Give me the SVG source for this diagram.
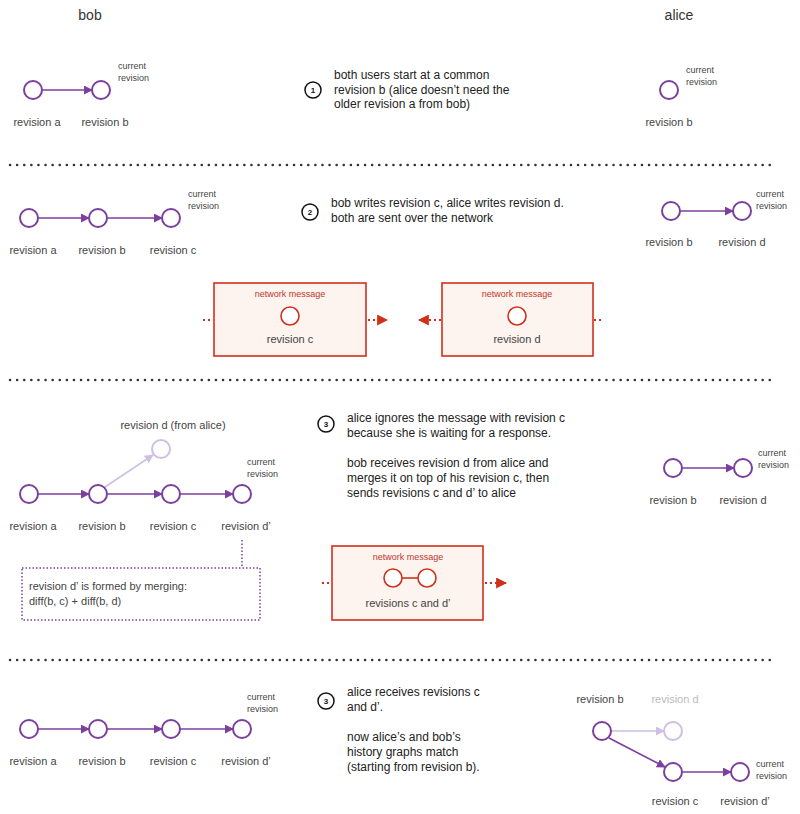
<svg xmlns="http://www.w3.org/2000/svg" width="800" height="814" viewBox="0 0 800 814">
<defs>
<marker id="ap" viewBox="0 0 10 10" refX="9" refY="5" markerWidth="9" markerHeight="9" markerUnits="userSpaceOnUse" orient="auto"><path d="M0,0L10,5L0,10z" fill="#7b3f9e"/></marker>
<marker id="af" viewBox="0 0 10 10" refX="9" refY="5" markerWidth="9" markerHeight="9" markerUnits="userSpaceOnUse" orient="auto"><path d="M0,0L10,5L0,10z" fill="#cfbfe0"/></marker>
<marker id="ar" viewBox="0 0 10 10" refX="9" refY="5" markerWidth="11" markerHeight="11" markerUnits="userSpaceOnUse" orient="auto"><path d="M0,0L10,5L0,10z" fill="#d0301a"/></marker>
</defs>
<style>
text{font-family:"Liberation Sans",Arial,sans-serif;fill:#444;font-size:11px}
.t{font-size:12px;fill:#222}
.s{font-size:9px;fill:#444}
.h{font-size:14px;fill:#333}
.m{font-size:9px;fill:#c0392b}
.n{fill:#fff;stroke:#7b3f9e;stroke-width:2}
.f{fill:#fff;stroke:#cfbfe0;stroke-width:2}
.e{stroke:#7b3f9e;stroke-width:1.6;fill:none}
.ef{stroke:#cfbfe0;stroke-width:1.6;fill:none}
.sep{stroke:#333;stroke-width:2.5;stroke-dasharray:0.1 7;stroke-linecap:round}
.box{fill:#fdf3ef;stroke:#d0301a;stroke-width:1.6}
.rn{fill:#fff;stroke:#d0301a;stroke-width:1.6}
.rd{stroke:#d0301a;stroke-width:2;stroke-dasharray:2 3;fill:none}
.step{fill:#fff;stroke:#111;stroke-width:1.5}
.sn{font-size:8px;fill:#111;font-weight:bold}
</style>
<text class="h" x="90" y="20" text-anchor="middle">bob</text>
<text class="h" x="679" y="20" text-anchor="middle">alice</text>
<g id="separators">
<line class="sep" x1="10" y1="165" x2="775" y2="165"/>
<line class="sep" x1="10" y1="380" x2="775" y2="380"/>
<line class="sep" x1="10" y1="660" x2="775" y2="660"/>
</g>
<g id="connectors">
<line class="e" x1="42" y1="90" x2="92" y2="90" marker-end="url(#ap)"/>
<line class="e" x1="38" y1="218" x2="89" y2="218" marker-end="url(#ap)"/>
<line class="e" x1="107" y1="218" x2="162" y2="218" marker-end="url(#ap)"/>
<line class="e" x1="680" y1="211" x2="733" y2="211" marker-end="url(#ap)"/>
<path class="rd" d="M203,320H213"/><path class="rd" d="M368,320H387" marker-end="url(#ar)"/>
<path class="rd" d="M441,320H419" marker-end="url(#ar)"/><path class="rd" d="M594,320H604"/>
<line class="e" x1="38" y1="494" x2="89" y2="494" marker-end="url(#ap)"/>
<line class="e" x1="107" y1="494" x2="162" y2="494" marker-end="url(#ap)"/>
<line class="e" x1="180" y1="494" x2="233" y2="494" marker-end="url(#ap)"/>
<line class="ef" x1="105" y1="487" x2="153" y2="455" marker-end="url(#af)"/>
<line stroke="#7b3f9e" stroke-width="1.5" stroke-dasharray="1.5 2" x1="242" y1="540" x2="242" y2="568"/>
<line class="e" x1="682" y1="468" x2="734" y2="468" marker-end="url(#ap)"/>
<path class="rd" d="M322,583H331"/><path class="rd" d="M485,583H506" marker-end="url(#ar)"/>
<line class="e" x1="38" y1="729" x2="89" y2="729" marker-end="url(#ap)"/>
<line class="e" x1="107" y1="729" x2="162" y2="729" marker-end="url(#ap)"/>
<line class="e" x1="180" y1="729" x2="233" y2="729" marker-end="url(#ap)"/>
<line class="ef" x1="611" y1="731" x2="664" y2="731" marker-end="url(#af)"/>
<line class="e" x1="609" y1="738" x2="665" y2="767" marker-end="url(#ap)"/>
<line class="e" x1="682" y1="772" x2="731" y2="772" marker-end="url(#ap)"/>
</g>
<g id="section1">
<circle class="n" cx="33" cy="90" r="9"/><text x="37" y="126" text-anchor="middle">revision a</text>
<circle class="n" cx="101" cy="90" r="9"/><text x="105" y="126" text-anchor="middle">revision b</text>
<text class="s" x="118" y="69">current</text><text class="s" x="118" y="81">revision</text>
<circle class="n" cx="669" cy="90" r="9"/><text x="669" y="126" text-anchor="middle">revision b</text>
<text class="s" x="686" y="73">current</text><text class="s" x="686" y="85">revision</text>
<circle class="step" cx="313" cy="90" r="8"/><text class="sn" x="313" y="93" text-anchor="middle">1</text>
<text class="t" x="334" y="79">both users start at a common</text>
<text class="t" x="334" y="94">revision b (alice doesn’t need the</text>
<text class="t" x="334" y="108">older revision a from bob)</text>
</g>
<g id="section2">
<circle class="n" cx="29" cy="218" r="9"/><text x="33" y="254" text-anchor="middle">revision a</text>
<circle class="n" cx="98" cy="218" r="9"/><text x="102" y="254" text-anchor="middle">revision b</text>
<circle class="n" cx="171" cy="218" r="9"/><text x="173" y="254" text-anchor="middle">revision c</text>
<text class="s" x="188" y="197">current</text><text class="s" x="188" y="209">revision</text>
<circle class="step" cx="310" cy="212" r="8"/><text class="sn" x="310" y="215" text-anchor="middle">2</text>
<text class="t" x="331" y="207">bob writes revision c, alice writes revision d.</text>
<text class="t" x="331" y="222">both are sent over the network</text>
<circle class="n" cx="671" cy="211" r="9"/><text x="669" y="246" text-anchor="middle">revision b</text>
<circle class="n" cx="742" cy="211" r="9"/><text x="742" y="246" text-anchor="middle">revision d</text>
<text class="s" x="756" y="197">current</text><text class="s" x="756" y="209">revision</text>
</g>
<g id="msg-c"><rect class="box" x="214" y="283" width="152" height="73"/><text class="m" x="290" y="297" text-anchor="middle">network message</text><circle class="rn" cx="290" cy="316" r="9"/><text x="290" y="343" text-anchor="middle">revision c</text></g>
<g id="msg-d"><rect class="box" x="442" y="283" width="151" height="73"/><text class="m" x="517" y="297" text-anchor="middle">network message</text><circle class="rn" cx="517" cy="316" r="9"/><text x="517" y="343" text-anchor="middle">revision d</text></g>
<g id="section3">
<text x="173" y="429" text-anchor="middle">revision d (from alice)</text>
<circle class="f" cx="161" cy="449" r="9"/>
<circle class="n" cx="29" cy="494" r="9"/><text x="33" y="530" text-anchor="middle">revision a</text>
<circle class="n" cx="98" cy="494" r="9"/><text x="102" y="530" text-anchor="middle">revision b</text>
<circle class="n" cx="171" cy="494" r="9"/><text x="173" y="530" text-anchor="middle">revision c</text>
<circle class="n" cx="242" cy="494" r="9"/><text x="246" y="530" text-anchor="middle">revision d’</text>
<text class="s" x="247" y="465">current</text><text class="s" x="247" y="477">revision</text>
<rect x="22" y="568" width="238" height="52" fill="#fff" stroke="#7b3f9e" stroke-width="1.5" stroke-dasharray="1.5 2"/>
<text x="29" y="590">revision d’ is formed by merging:</text><text x="29" y="605">diff(b, c) + diff(b, d)</text>
<circle class="step" cx="326" cy="424" r="8"/><text class="sn" x="326" y="427" text-anchor="middle">3</text>
<text class="t" x="347" y="422">alice ignores the message with revision c</text>
<text class="t" x="347" y="437">because she is waiting for a response.</text>
<text class="t" x="347" y="467">bob receives revision d from alice and</text>
<text class="t" x="347" y="482">merges it on top of his revision c, then</text>
<text class="t" x="347" y="497">sends revisions c and d’ to alice</text>
<circle class="n" cx="673" cy="468" r="9"/><text x="673" y="504" text-anchor="middle">revision b</text>
<circle class="n" cx="743" cy="468" r="9"/><text x="743" y="504" text-anchor="middle">revision d</text>
<text class="s" x="758" y="456">current</text><text class="s" x="758" y="468">revision</text>
</g>
<g id="msg-cd"><rect class="box" x="332" y="546" width="151" height="74"/><text class="m" x="408" y="560" text-anchor="middle">network message</text><line stroke="#d0301a" stroke-width="1.6" x1="402" y1="578" x2="418" y2="578"/><circle class="rn" cx="393" cy="578" r="9"/><circle class="rn" cx="427" cy="578" r="9"/><text x="408" y="607" text-anchor="middle">revisions c and d’</text></g>
<g id="section4">
<circle class="n" cx="29" cy="729" r="9"/><text x="33" y="765" text-anchor="middle">revision a</text>
<circle class="n" cx="98" cy="729" r="9"/><text x="102" y="765" text-anchor="middle">revision b</text>
<circle class="n" cx="171" cy="729" r="9"/><text x="173" y="765" text-anchor="middle">revision c</text>
<circle class="n" cx="242" cy="729" r="9"/><text x="246" y="765" text-anchor="middle">revision d’</text>
<text class="s" x="247" y="700">current</text><text class="s" x="247" y="712">revision</text>
<circle class="step" cx="326" cy="701" r="8"/><text class="sn" x="326" y="704" text-anchor="middle">3</text>
<text class="t" x="347" y="696">alice receives revisions c</text>
<text class="t" x="347" y="711">and d’.</text>
<text class="t" x="347" y="741">now alice’s and bob’s</text>
<text class="t" x="347" y="756">history graphs match</text>
<text class="t" x="347" y="771">(starting from revision b).</text>
<text x="600" y="703" text-anchor="middle">revision b</text><circle class="n" cx="602" cy="731" r="9"/>
<text x="675" y="703" text-anchor="middle" style="fill:#bbb">revision d</text><circle class="f" cx="673" cy="731" r="9"/>
<circle class="n" cx="673" cy="772" r="9"/><text x="675" y="805" text-anchor="middle">revision c</text>
<circle class="n" cx="740" cy="772" r="9"/><text x="745" y="805" text-anchor="middle">revision d’</text>
<text class="s" x="756" y="767">current</text><text class="s" x="756" y="779">revision</text>
</g>
</svg>
